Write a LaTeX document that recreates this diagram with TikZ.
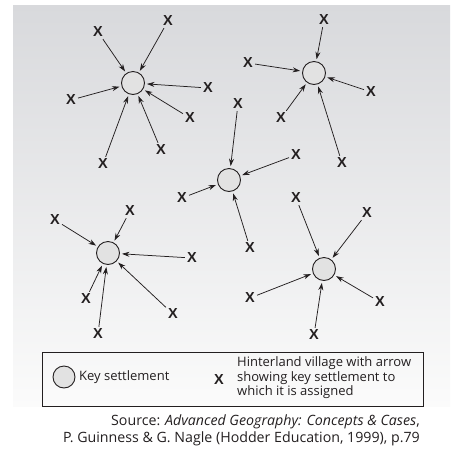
\documentclass[tikz,border=0pt]{standalone}
\usepackage{fontspec}
\setmainfont{Open Sans}
\newfontfamily\xfont{Liberation Sans}
\usetikzlibrary{arrows.meta}
\definecolor{bgtop}{RGB}{216,217,220}
\definecolor{bgbot}{RGB}{251,251,251}
\definecolor{ink}{RGB}{35,31,32}
\definecolor{settle}{RGB}{226,226,226}
\begin{document}
\begin{tikzpicture}[x=1pt,y=-1pt,
 settlement/.style={circle,draw=ink,line width=0.9pt,fill=settle,minimum size=23pt,inner sep=0pt,outer sep=2.5pt},
 village/.style={font=\xfont\bfseries\fontsize{14.5}{14.5}\selectfont,text=ink,inner sep=1pt,outer sep=1.2pt},
 assign/.style={draw=ink,line width=0.75pt,-{Stealth[length=7.5pt,width=5pt]}},
 legtext/.style={font=\fontsize{13}{14.5}\selectfont,text=ink,inner sep=0pt},
]
\useasboundingbox (0,0) rectangle (456,459);
\shade[top color=bgtop,bottom color=bgbot] (13,5) rectangle (450,406);

% cluster 1
\node[settlement] (c1) at (133,83) {};
\foreach \n/\x/\y in {a/98/32,b/168/21,c/208/88,d/190/118,e/161/150,f/103/164,g/71/100}{
  \node[village] (v1\n) at (\x,\y) {X};
  \draw[assign] (v1\n) -- (c1);
}
% cluster 2
\node[settlement] (c2) at (314,73) {};
\foreach \n/\x/\y in {a/324/20,b/248/63,c/371/92,d/281/118,e/342/163}{
  \node[village] (v2\n) at (\x,\y) {X};
  \draw[assign] (v2\n) -- (c2);
}
% cluster 3
\node[settlement] (c3) at (229,180) {};
\foreach \n/\x/\y in {a/238/104,b/296/155,c/182/198,d/250/248}{
  \node[village] (v3\n) at (\x,\y) {X};
  \draw[assign] (v3\n) -- (c3);
}
% cluster 4
\node[settlement] (c4) at (108,253) {};
\foreach \n/\x/\y in {a/55/220,b/130/211,c/192/258,d/173/314,e/98/334,f/86/299}{
  \node[village] (v4\n) at (\x,\y) {X};
  \draw[assign] (v4\n) -- (c4);
}
% cluster 5
\node[settlement] (c5) at (324,269) {};
\foreach \n/\x/\y in {a/296/198,b/367/213,c/380/302,d/314/335,e/250/298}{
  \node[village] (v5\n) at (\x,\y) {X};
  \draw[assign] (v5\n) -- (c5);
}

% legend
\draw[ink,line width=0.8pt] (42,352) rectangle (423,406);
\node[settlement,minimum size=22pt] (lc) at (64,377) {};
\node[legtext,anchor=west] (lct) at (79,377) {Key settlement};
\node[village] (lx) at (219,380) {X};
\node[legtext,anchor=west,align=left] (lxt) at (237,378) {Hinterland village with arrow\\showing key settlement to\\which it is assigned};

% source
\node[legtext,anchor=north east,align=right,font=\fontsize{14.2}{16.5}\selectfont] (src) at (420,415)
 {Source: \textit{Advanced Geography: Concepts \& Cases},\\P. Guinness \& G. Nagle (Hodder Education, 1999), p.79};
\end{tikzpicture}
\end{document}
